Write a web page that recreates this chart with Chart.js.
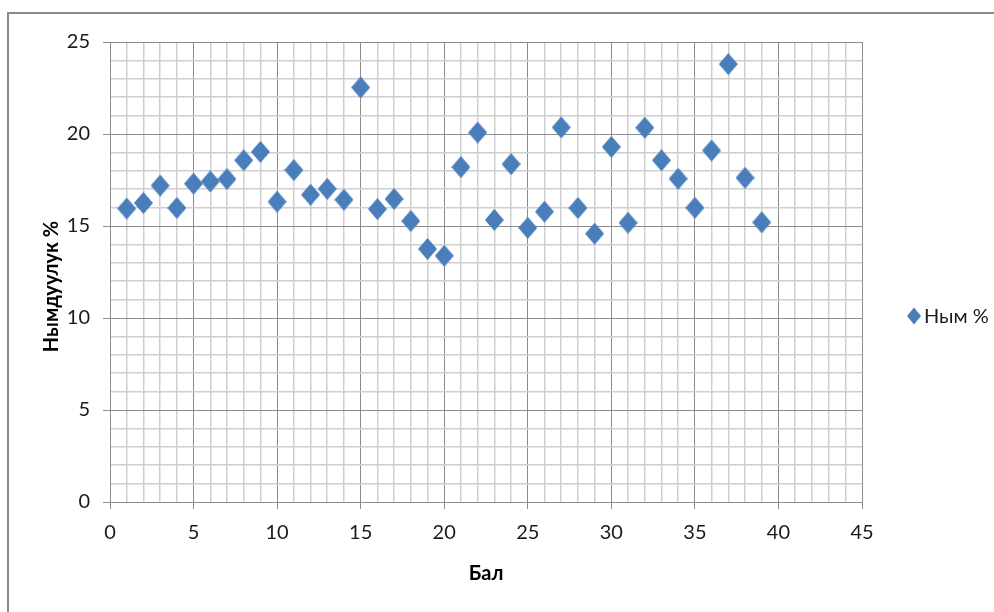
<!DOCTYPE html>
<html>
<head>
<meta charset="utf-8">
<script src="https://cdn.jsdelivr.net/npm/chart.js@4/dist/chart.umd.min.js"></script>
<style>
  html, body { margin: 0; padding: 0; background: #ffffff; overflow: hidden; }
  #frame { position: absolute; left: 7px; top: 12px; width: 1100px; height: 700px; border: 2px solid #8a8a8a; box-sizing: border-box; }
  #wrap { position: absolute; left: 0; top: 0; width: 994px; height: 612px; }
</style>
</head>
<body>
<div id="frame"></div>
<div id="wrap"><canvas id="c" width="994" height="612"></canvas></div>
<script>
// ---- data ----
const seriesName = 'Ным %';
const xTitle = 'Бал';
const yTitle = 'Нымдуулук %';
const balValues = [1, 2, 3, 4, 5, 6, 7, 8, 9, 10, 11, 12, 13, 14, 15, 16, 17, 18, 19, 20,
                   21, 22, 23, 24, 25, 26, 27, 28, 29, 30, 31, 32, 33, 34, 35, 36, 37, 38, 39];
const nymValues = [15.95, 16.25, 17.2, 15.98, 17.3, 17.42, 17.55, 18.57, 19.03, 16.32,
                   18.04, 16.7, 17.02, 16.43, 22.53, 15.92, 16.47, 15.27, 13.75, 13.38,
                   18.2, 20.08, 15.33, 18.36, 14.9, 15.78, 20.36, 15.98, 14.58, 19.3,
                   15.17, 20.34, 18.57, 17.57, 15.99, 19.1, 23.8, 17.62, 15.2];
const xTickLabels = [0, 5, 10, 15, 20, 25, 30, 35, 40, 45];
const yTickLabels = [0, 5, 10, 15, 20, 25];

const points = balValues.map((x, i) => ({ x: x, y: nymValues[i] }));

const blue = '#4a7ebb';
const majorGrid = '#8c8c8c';
const minorGrid = '#cfcfcf';
const fontFamily = 'Lato, "Open Sans", "Liberation Sans", sans-serif';

function makeDiamond(w, h, color) {
  const cv = document.createElement('canvas');
  cv.width = w; cv.height = h;
  const g = cv.getContext('2d');
  g.fillStyle = color;
  g.beginPath();
  g.moveTo(w / 2, 0);
  g.lineTo(w, h / 2);
  g.lineTo(w / 2, h);
  g.lineTo(0, h / 2);
  g.closePath();
  g.fill();
  return cv;
}
const diamond = makeDiamond(19, 22, blue);

const legendPlugin = {
  id: 'sideLegend',
  afterDraw(chart) {
    const ctx = chart.ctx;
    const cx = 914, cy = 316;
    ctx.save();
    ctx.fillStyle = blue;
    ctx.beginPath();
    ctx.moveTo(cx, cy - 8.5);
    ctx.lineTo(cx + 7, cy);
    ctx.lineTo(cx, cy + 8.5);
    ctx.lineTo(cx - 7, cy);
    ctx.closePath();
    ctx.fill();
    ctx.fillStyle = '#1a1a1a';
    ctx.font = '20px ' + fontFamily;
    ctx.textAlign = 'left';
    ctx.textBaseline = 'middle';
    ctx.fillText(chart.data.datasets[0].label, 924, cy + 1);
    ctx.restore();
  }
};

const gridColor = (c) => (c.tick && c.tick.value % 5 === 0) ? majorGrid : minorGrid;
const gridWidth = (c) => (c.tick && c.tick.value % 5 === 0) ? 1 : 1.5;
const tickColor = (c) => (c.tick && c.tick.value % 5 === 0) ? majorGrid : 'rgba(0,0,0,0)';

new Chart(document.getElementById('c'), {
  type: 'scatter',
  data: {
    datasets: [{
      label: seriesName,
      data: points,
      pointStyle: diamond,
      pointRadius: 10,
      borderWidth: 0,
      backgroundColor: blue
    }]
  },
  options: {
    responsive: false,
    animation: false,
    layout: { padding: { left: 0, top: 42, right: 132, bottom: 0 } },
    plugins: {
      legend: { display: false },
      tooltip: { enabled: false }
    },
    scales: {
      x: {
        type: 'linear',
        min: 0, max: 45,
        afterFit(scale) { scale.height = 110; },
        ticks: {
          stepSize: 1,
          autoSkip: false,
          maxRotation: 0,
          padding: 12,
          color: '#1a1a1a',
          font: { family: fontFamily, size: 20 },
          callback: (v) => xTickLabels.includes(v) ? String(v) : ''
        },
        grid: { color: gridColor, lineWidth: gridWidth, tickColor: tickColor, tickLength: 7, tickWidth: 1 },
        border: { color: majorGrid, width: 1 },
        title: {
          display: true,
          text: xTitle,
          color: '#000000',
          font: { family: fontFamily, size: 20, weight: 'bold' },
          padding: { top: 0, bottom: 26 }
        }
      },
      y: {
        type: 'linear',
        min: 0, max: 25,
        afterFit(scale) { scale.width = 110; },
        ticks: {
          stepSize: 1,
          autoSkip: false,
          padding: 13,
          color: '#1a1a1a',
          font: { family: fontFamily, size: 20 },
          callback: (v) => yTickLabels.includes(v) ? String(v) : ''
        },
        grid: { color: gridColor, lineWidth: gridWidth, tickColor: tickColor, tickLength: 7, tickWidth: 1 },
        border: { color: majorGrid, width: 1 },
        title: {
          display: true,
          text: yTitle + '      ',
          color: '#000000',
          font: { family: fontFamily, size: 20, weight: 'bold' },
          padding: { top: 40, bottom: 0 }
        }
      }
    }
  },
  plugins: [legendPlugin]
});
</script>
</body>
</html>
